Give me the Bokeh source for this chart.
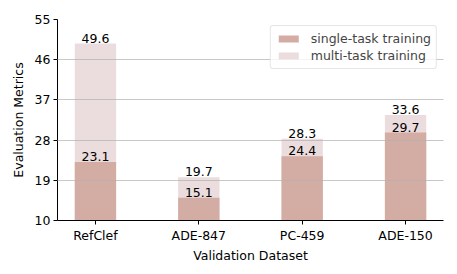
from bokeh.plotting import figure
from bokeh.models import ColumnDataSource, FixedTicker, Range1d, Legend, LegendItem
from bokeh.core.properties import value
from bokeh.embed import file_html
from bokeh.resources import INLINE

categories = ["RefClef", "ADE-847", "PC-459", "ADE-150"]
single_task = [23.1, 15.1, 24.4, 29.7]
multi_task = [49.6, 19.7, 28.3, 33.6]
y_ticks = [10, 19, 28, 37, 46, 55]

FONT = "DejaVu Sans"
FS = "12.5px"
xs = list(range(len(categories)))

src = ColumnDataSource(dict(
    x=xs, single=single_task, multi=multi_task,
    single_lbl=[f"{v:.1f}" for v in single_task],
    multi_lbl=[f"{v:.1f}" for v in multi_task],
))

p = figure(frame_width=386, frame_height=201, output_backend="svg", toolbar_location=None,
           x_range=Range1d(-0.367, 3.367), y_range=Range1d(10, 55),
           min_border_left=57, min_border_right=12, min_border_top=19, min_border_bottom=10)
p.outline_line_color = None
p.background_fill_color = "white"

r_multi = p.vbar(x="x", top="multi", bottom=10, width=0.4, source=src,
                 fill_color="#ebdcdd", line_color=None)
r_single = p.vbar(x="x", top="single", bottom=10, width=0.4, source=src,
                  fill_color="#d3aca4", line_color=None)

p.text(x="x", y="multi", text="multi_lbl", source=src, text_align="center",
       text_baseline="bottom", y_offset=-1, text_font=value(FONT), text_font_size=FS,
       text_color="black")
p.text(x="x", y="single", text="single_lbl", source=src, text_align="center",
       text_baseline="bottom", y_offset=-1, text_font=value(FONT), text_font_size=FS,
       text_color="black")

p.xgrid.grid_line_color = None
p.ygrid.grid_line_color = "#b0b0b0"
p.ygrid.grid_line_alpha = 0.7
p.ygrid.grid_line_width = 1
p.ygrid.level = "overlay"

p.xaxis.ticker = FixedTicker(ticks=xs)
p.xaxis.major_label_overrides = {i: c for i, c in enumerate(categories)}
p.yaxis.ticker = FixedTicker(ticks=y_ticks)
for ax in (p.xaxis, p.yaxis):
    ax.minor_tick_line_color = None
    ax.major_tick_in = 0
    ax.major_tick_out = 4
    ax.axis_line_color = "black"
    ax.major_tick_line_color = "black"
    ax.major_label_text_font = FONT
    ax.major_label_text_font_size = FS
    ax.major_label_text_color = "black"
    ax.axis_label_text_font = FONT
    ax.axis_label_text_font_size = FS
    ax.axis_label_text_font_style = "normal"
    ax.axis_label_text_color = "black"
    ax.major_label_standoff = 3
p.xaxis.axis_label = "Validation Dataset"
p.yaxis.axis_label = "Evaluation Metrics"
p.xaxis.axis_label_standoff = 2
p.yaxis.axis_label_standoff = 6

legend = Legend(items=[LegendItem(label="single-task training", renderers=[r_single]),
                       LegendItem(label="multi-task training", renderers=[r_multi])],
                location="top_right")
legend.margin = 6
legend.padding = 5
legend.spacing = 2
legend.glyph_width = 25
legend.glyph_height = 9
legend.label_text_font = FONT
legend.label_text_font_size = FS
legend.label_height = 14
legend.label_standoff = 10
legend.border_line_color = "#cccccc"
legend.border_radius = 3
legend.background_fill_alpha = 0.8
p.add_layout(legend, "center")

open("out.html", "w").write(file_html(p, INLINE))
